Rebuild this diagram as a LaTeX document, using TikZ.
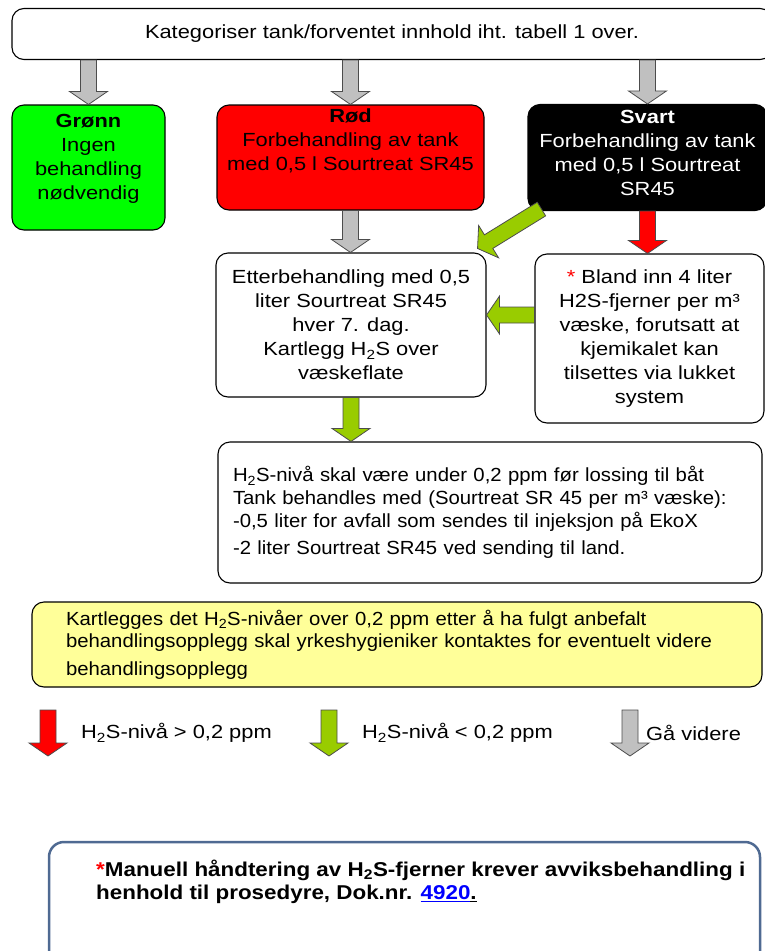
\documentclass[tikz,border=0pt]{standalone}
\usepackage{fontspec}
\setmainfont[FakeStretch=1.15]{Liberation Sans}
\newfontfamily\narrowfont[FakeStretch=1.07]{Liberation Sans}
\newfontfamily\notefont[FakeStretch=1.12]{Liberation Sans}
\usetikzlibrary{calc}

\definecolor{arrowgray}{HTML}{C0C0C0}
\definecolor{arrowgreen}{HTML}{99CC00}
\definecolor{boxgreen}{HTML}{00FF00}
\definecolor{noteyellow}{HTML}{FFFF99}
\definecolor{noteblue}{HTML}{4F6A92}

\newcommand{\boxfont}{\fontsize{19}{24}\selectfont}

% Block arrow from #2 to #3, filled with #1
\newcommand{\blockarrow}[3]{%
  \path ($(#3)!13pt!(#2)$) coordinate (neck);
  \draw[arrowline, fill=#1]
    ($(#2)!8pt!90:(neck)$) -- ($(neck)!8pt!-90:(#2)$) -- ($(neck)!19pt!-90:(#2)$)
    -- (#3) -- ($(neck)!19pt!90:(#2)$) -- ($(neck)!8pt!90:(#2)$)
    -- ($(#2)!8pt!-90:(neck)$) -- cycle;
}

\begin{document}
\begin{tikzpicture}[x=1pt, y=-1pt,
    box/.style={draw, line width=1.1pt, rounded corners=12pt, align=center, inner sep=2pt, font=\boxfont},
    boxtext/.style={align=center, inner sep=0pt, font=\boxfont},
    arrowline/.style={draw=black!70, line width=0.8pt}]

    % Page frame
    \useasboundingbox (0,0) rectangle (765,951);

    % Top box
    \node[box, minimum width=760, minimum height=51] (top) at (392,34) {Kategoriser tank/forventet innhold iht. tabell 1 over.};

    % The three categories
    \node[box, fill=boxgreen, minimum width=153, minimum height=125] (green) at (88.5,167.5) {};
    \node[boxtext] (greentxt) at ([yshift=9]green.center) {\textbf{Grønn}\\Ingen\\behandling\\nødvendig};

    \node[box, fill=red, minimum width=267, minimum height=105] (red) at (350.5,157.5) {};
    \node[boxtext] (redtxt) at ([yshift=17]red.center) {\textbf{Rød}\\Forbehandling av tank\\med 0,5 l Sourtreat SR45};

    \node[box, fill=black, minimum width=239, minimum height=106] (black) at (647.5,157.5) {};
    \node[boxtext, text=white] (blacktxt) at ([yshift=5]black.center) {\textbf{Svart}\\Forbehandling av tank\\med 0,5 l Sourtreat\\SR45};

    % Treatment boxes
    \node[box, minimum width=270, minimum height=144] (etter) at (351,325) {Etterbehandling med 0,5\\liter Sourtreat SR45\\hver 7. dag.\\Kartlegg H\textsubscript{2}S over\\væskeflate};

    \node[box, minimum width=229, minimum height=169] (bland) at (649.5,338.5) {\textcolor{red}{*} Bland inn 4 liter\\H2S-fjerner per m³\\væske, forutsatt at\\kjemikalet kan\\tilsettes via lukket\\system};

    \node[box, align=left, text width=514, inner xsep=15pt, minimum height=141, font=\narrowfont\fontsize{19}{23}\selectfont] (niva) at (490,512.5) {H\textsubscript{2}S-nivå skal være under 0,2 ppm før lossing til båt\\Tank behandles med (Sourtreat SR 45 per m³ væske):\\-0,5 liter for avfall som sendes til injeksjon på EkoX\\[4pt]-2 liter Sourtreat SR45 ved sending til land.};

    % Yellow note
    \node[box, fill=noteyellow, align=left, text width=662, inner xsep=34pt, minimum height=85, font=\narrowfont\fontsize{19}{22}\selectfont] (gul) at (397,644.5) {Kartlegges det H\textsubscript{2}S-nivåer over 0,2 ppm etter å ha fulgt anbefalt\\behandlingsopplegg skal yrkeshygieniker kontaktes for eventuelt videre\\[6pt]behandlingsopplegg};

    % Arrows between the boxes
    \blockarrow{arrowgray}{top.south -| green.north}{green.north}
    \blockarrow{arrowgray}{top.south -| red.north}{red.north}
    \blockarrow{arrowgray}{top.south -| black.north}{black.north}
    \blockarrow{arrowgray}{red.south}{red.south |- etter.north}
    \blockarrow{red}{black.south}{black.south |- bland.north}
    \blockarrow{arrowgreen}{[shift={(14,-2)}]black.south west}{[shift={(-9,-4)}]etter.north east}
    \blockarrow{arrowgreen}{[yshift=10]bland.west |- etter.east}{[yshift=10]etter.east}
    \blockarrow{arrowgreen}{etter.south}{etter.south |- niva.north}

    % Legend
    \coordinate (r1) at (48,710);
    \coordinate (r2) at (48,756);
    \coordinate (g1) at (329,710);
    \coordinate (g2) at (329,756);
    \coordinate (s1) at (630,710);
    \coordinate (s2) at (630,756);
    \blockarrow{red}{r1}{r2}
    \blockarrow{arrowgreen}{g1}{g2}
    \blockarrow{arrowgray}{s1}{s2}
    \node[boxtext, anchor=west] (rtxt) at (81,733) {H\textsubscript{2}S-nivå > 0,2 ppm};
    \node[boxtext, anchor=west] (gtxt) at (362,733) {H\textsubscript{2}S-nivå < 0,2 ppm};
    \node[boxtext, anchor=west] (stxt) at (646,733) {Gå videre};

    % Bottom note
    \node[draw=noteblue, line width=2.5pt, rounded corners=15pt, minimum width=711, minimum height=124] (manuell) at (404.5,904) {};
    \node[boxtext, align=left, anchor=north west, font=\notefont\fontsize{20}{23}\selectfont] (manuelltxt) at (96,860) {\textbf{\textcolor{red}{*}Manuell håndtering av H\textsubscript{2}S-fjerner krever avviksbehandling i}\\\textbf{henhold til prosedyre, Dok.nr. \textcolor{blue}{\underline{4920}}\underline{.}}};

\end{tikzpicture}
\end{document}
